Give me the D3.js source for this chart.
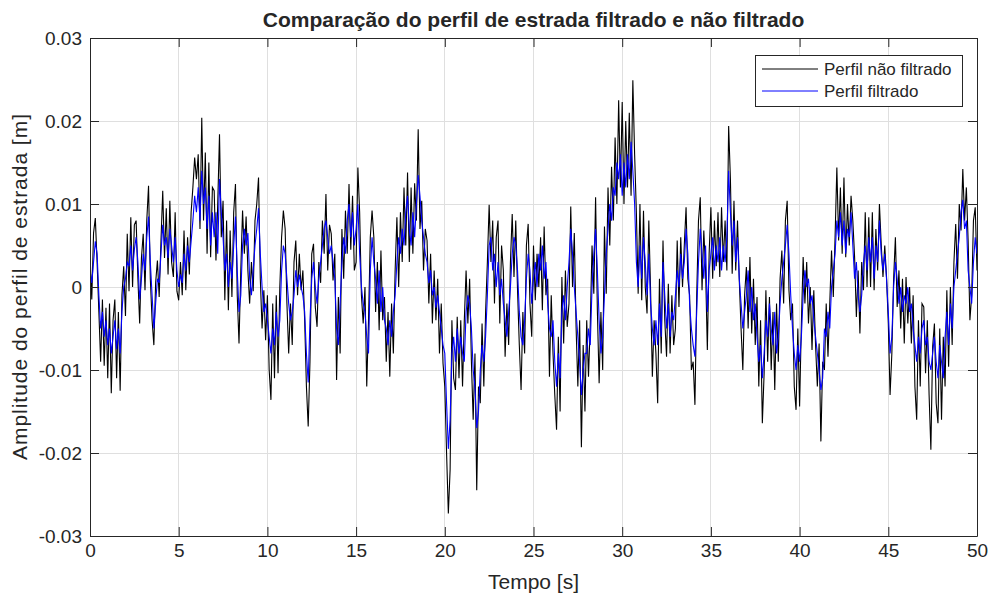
<!DOCTYPE html>
<html>
<head>
<meta charset="utf-8">
<script src="https://cdn.jsdelivr.net/npm/d3@7"></script>
<style>
  html, body { margin: 0; padding: 0; background: #ffffff; }
  svg { display: block; }
  text { font-family: "Liberation Sans", Arial, Helvetica, sans-serif; fill: #262626; }
</style>
</head>
<body>
<svg id="chart" width="988" height="595"></svg>
<script>
// Road profile amplitude in millimetres, sampled every 0.1 s from 0 to 50 s.
const sampleStep = 0.1;

// Unfiltered road profile (mm)
const perfilNaoFiltrado = [
  4, -1.5, 6.5, 8.3, 3, -3, -9, -1.5, -9.5, -2.5,
  -11, -2, -12.8, -4, -1.5, -11, -3, -12.5, -1, 2.5,
  -3.5, 6.4, -0.5, 8.4, 0, 7.5, 8, 1, -4.4, 3.5,
  6.4, -0.4, 8, 12.2, 1, -4, -7, 0.5, 3.2, -1.2,
  5.5, 11.6, 3.5, 9.5, 1.5, 10.4, 3, 1.2, 9, -0.5,
  -1.6, 3, -1, 6.8, -0.4, 6, 1.5, 9, 12, 15.6,
  13, 16, 7, 20.4, 8, 16.2, 4, 15, 3.6, 12,
  11.6, 3.2, 10, 18.4, 6, 10.4, -1.6, 8, -2.8, 6.8,
  -1.2, 9, 12.4, -1, -6.8, 2, 9.2, 4, 8.5, 2,
  -2, 3, -0.5, 8, 10, 13.2, 1, -5, -0.4, -6.4,
  -1, -10, -13.6, -2, -11, -1, -10.4, 0, 6, 9.2,
  7, -2, -8, -2, -7, 3, 5.6, -1, 4, -0.4,
  2, -4, -12, -16.8, -9, 4, 5.2, -2.4, -4.8, 3,
  0.5, 8, 4, 11.2, 2, 7.5, 6.4, 0.8, 4, -11.2,
  -1.2, -8, 7, 1, 9.2, 4, 12.4, 4.5, 11, 2,
  3, 14.4, 9, -1, -4.4, 0, -12, -4, 6, 9.2,
  6, -3, 3, -5.2, 4.4, -4, -1.2, -9, -3, -10.8,
  -2, -8, 2, 8.4, 0, 9, 3, 12, 5, 13.8,
  3, 12, 4, 12.5, 8, 19, 7, 10.4, 2, 7,
  5.6, -2, 4, -4.4, 2, -4, 1, -8, -2, -9.2,
  -12, -20, -27.3, -22, -4, -11, -12.4, -3.6, -11, -4,
  -12, -4, 2, -4.4, 1, -9, -16, -8, -24.5, -12,
  -14, -4.4, -12, -3, 3, 9.9, 3, 8, -2, 6,
  8, -4.4, 5, 2, -8.4, -2, -7, 3, 8.8, 1.2,
  8, -0.4, -7, -12.4, -3, -8, 5, 7.6, -2, -6,
  5, -1.6, 4, 0, 6, -2.8, 7.3, -1, 1, -10.8,
  -1, -8, -13, -17.2, -6, -15, 1.2, -6.8, 2, -4.8,
  -2, 9.7, 0, 6.5, -4.8, -12, -4, -19.3, -7, -15,
  -4, -10.8, -4.5, 5, -0.8, 10.8, -2.8, -11.6, -3, -10,
  7.3, -0.8, 12, 5, 14.5, 8, 18, 10, 22.5, 12,
  22.3, 10, 20, 12, 21, 11, 24.9, 16, 8.9, -0.8,
  10, -1.6, 9.2, 0, -3.2, 8, -0.4, -10.8, -4, -8,
  -14, 1, -8, 5.6, -4, -8.4, 0.4, -8, -1, -7,
  -5, 5.6, -2.4, 6, 0, 5, 9.6, 1, -1, -10,
  -9, -14.2, -1, 8, 10.8, -0.4, 6.8, 2, -7.6, 4,
  9.6, 1, 8, 2.5, 9, 1.2, 9.6, 3, 8, 2,
  19.4, 13, 1.6, 10.4, 2, 8, 0.8, -5, -10, -1,
  2.4, -5, 3.6, -5.6, 1, -7, -1.2, -12, -4, -16.4,
  -10.4, -0.4, -9, -1.2, -10, -3, -12.4, -2, -9, 1,
  4.4, -2, 8, 10.4, -0.4, -4, -2, -12, -14.8, -5,
  -14.4, -4.4, 3.6, -2, 3, -4.4, 0, -7.6, -0.4, -7,
  -12, -6.8, -18.6, -9, -10, -2, -8.4, -2, 4.4, -1.2,
  6, 14.4, 5.6, 12, 4, 13.2, 3.6, 10, 5, 11,
  8, 3.6, -3.6, 2, -5.6, 3, -0.4, 9, 0, 8.4,
  0, 9, -0.4, 7, 2, 10, 5.2, 1.2, 5, 1.2,
  -4.4, -13, -8, 1, 6, -2.4, 2, -5, 1, -6.8,
  1.2, -4.4, 0, -6.8, -1, -12, -16, -4, -12, -2,
  -2.4, -10.4, -4, -13, -19.6, -7.2, -4.4, -14, -16.4, -5,
  -16, -6, -12, -0.4, -9.6, 0, -7, 3, 7.6, 1,
  10, 6.8, 14.2, 8, 12, 5.6, -4, -1, 8, 9.6, 2
];

// Filtered road profile (mm)
const perfilFiltrado = [
  2, 0.5, 3, 5.5, 4, -1, -5, -3, -6, -4,
  -7, -5, -8, -6, -4, -7.5, -5, -8, -3, 0,
  1, 3, 2.5, 5, 2, 4.5, 6, 3, -1.5, 1,
  4, 2, 6, 8.5, 3, -1, -5, -2, 1, 0.5,
  4, 7.5, 5, 6, 3.5, 7, 5, 3, 6, 2,
  0, 1.5, 0.5, 4, 2, 5, 3, 5.5, 8, 11,
  9, 12, 8, 14, 10, 12, 7, 11, 5, 9,
  6, 9, 4, 13, 9, 6, 2, 4, 0, 3,
  1, 5, 8.5, 2, -3, -1, 5, 7, 5, 6.5,
  1, -1, 2, 5, 7, 9.5, 4, 0, -3, -2,
  -4, -6, -8, -5, -7, -3, -6, -4, 2, 5,
  4, 1, -2, -4, -3, -1, 2, 0, 1.5, 0,
  -1, -3, -8, -11.5, -4, 1, 3, 0, -2, 1,
  3, 5, 7, 8, 6, 4, 5, 3, 1, -5,
  -7, -2, 3, 6, 4, 8, 10, 6, 9, 5,
  7, 10, 4, 0, -2, -3, -6, -8, 2, 6,
  3, 1, -2, 2, -3, 0, -4, -5, -7, -4,
  -6, -3, -1, 3, 6, 4, 7, 5, 9, 11,
  7, 5, 9, 6, 10, 13.5, 11, 8, 6, 4,
  3, 0.5, 2, -1, 0, -2.5, -1, -3, -5, -7,
  -8, -14, -19.5, -16, -8, -6, -9, -5, -8, -6,
  -8, -9, -3, -1, -2, -5, -10, -12, -17, -15,
  -10, -7, -9, -6, -1, 5, 6, 2, 4, 0,
  3, -1, 1, -2, -4, -6, -3, 0, 4, 6,
  5, 2, -3, -6, -7, -4, 1, 4, 2, -2,
  1, 3, 0, 4, 2, 5, 1, 3, -2, -5,
  -6, -4, -9, -12, -8, -11, -3, -1, -4, 0,
  3, 7, 4, 0, -3, -6, -9, -13, -10, -8,
  -8, -5, -7, 0, 4, 7, 2, -4, -8, -6,
  -1, 4, 7, 10, 8, 12, 11, 15, 13, 16,
  11, 15, 12, 16, 13, 17.5, 14, 10, 3, 0,
  5, 1, 6, 3, -1, 4, -2, -5, -7, -4,
  -7, -2, -6, 3, -1, -5, -2, -6, -3, -4,
  -1, 2, 0, 4, 1, 3, 7, 4, -2, -5,
  -7, -8.4, -3, 3, 7, 4, 1, 5, -3, 2,
  4, 6, 2, 5, 3, 6, 2, 5, 3, 6,
  14, 9, 5, 8, 3, 6, 1, -2, -5, -3,
  -1, 2, -3, 0, -4, -2, -6, -9, -7, -11,
  -8, -4, -6, -2, -5, -7, -3, -8, -6, -2,
  1, 3, 5, 7.5, 4, -1, -5, -8, -10, -7,
  -9, -6, -1, 2, 0, 1, -2, -1, -4, -6,
  -8, -10, -12.4, -11, -5, -6, -3, -5, 0, 2,
  4, 8, 6, 9, 5, 8, 4, 7, 6, 9,
  5, 1, 3, -1, -3, -1, 3, 5, 2, 6,
  3, 6, 1, 5, 3, 8, 4, 2, 4, 1,
  -3, -8, -6, 0, 3, 1, -2, 0, -3, -1,
  -2, 0, -3, -2, -5, -7, -9, -6, -8, -5,
  -4, -7, -6, -9, -10, -8, -6, -9, -11, -7,
  -9, -11, -6, -3, -7, -2, -5, 0, 2, 4,
  6, 9, 10.5, 7, 8, 2, 0, -2, 3, 6, 4
];

const xTicks = [0, 5, 10, 15, 20, 25, 30, 35, 40, 45, 50];
const yTicks = [-0.03, -0.02, -0.01, 0, 0.01, 0.02, 0.03];
const yTickLabels = ["-0.03", "-0.02", "-0.01", "0", "0.01", "0.02", "0.03"];
const seriesNames = ["Perfil não filtrado", "Perfil filtrado"];
const seriesColors = ["#000000", "#0000ff"];

const W = 988, H = 595;
const margin = { left: 90, right: 11, top: 38, bottom: 59 };
const plotW = W - margin.left - margin.right;
const plotH = H - margin.top - margin.bottom;
const axisColor = "#262626";
const gridColor = "#dfdfdf";
const tickLen = 9;
const fontStack = '"Liberation Sans", Arial, Helvetica, sans-serif';

const svg = d3.select("#chart");
const g = svg.append("g").attr("transform", `translate(${margin.left},${margin.top})`);

const x = d3.scaleLinear().domain([0, 50]).range([0, plotW]);
const y = d3.scaleLinear().domain([-0.03, 0.03]).range([plotH, 0]);

// grid
g.append("g").selectAll("line").data(xTicks.slice(1, -1)).join("line")
  .attr("x1", d => x(d)).attr("x2", d => x(d))
  .attr("y1", 0).attr("y2", plotH)
  .attr("stroke", gridColor).attr("stroke-width", 1).attr("shape-rendering", "crispEdges");
g.append("g").selectAll("line").data(yTicks.slice(1, -1)).join("line")
  .attr("y1", d => y(d)).attr("y2", d => y(d))
  .attr("x1", 0).attr("x2", plotW)
  .attr("stroke", gridColor).attr("stroke-width", 1).attr("shape-rendering", "crispEdges");

// data lines
g.append("clipPath").attr("id", "clip").append("rect")
  .attr("width", plotW).attr("height", plotH);

const line = d3.line()
  .x((d, i) => x(i * sampleStep))
  .y(d => y(d / 1000));

const plot = g.append("g").attr("clip-path", "url(#clip)");
[perfilNaoFiltrado, perfilFiltrado].forEach((series, k) => {
  plot.append("path")
    .datum(series)
    .attr("fill", "none")
    .attr("stroke", seriesColors[k])
    .attr("stroke-width", 1.1)
    .attr("stroke-linejoin", "miter")
    .attr("d", line);
});

// axes: ticks inward on all four sides, boxed plot
const fmtY = d => yTickLabels[yTicks.indexOf(d)];

const axB = g.append("g").attr("transform", `translate(0,${plotH})`)
  .call(d3.axisBottom(x).tickValues(xTicks).tickFormat(d3.format("d")).tickSizeInner(-tickLen).tickSizeOuter(0).tickPadding(8));
const axT = g.append("g")
  .call(d3.axisTop(x).tickValues(xTicks).tickFormat("").tickSizeInner(-tickLen).tickSizeOuter(0));
const axL = g.append("g")
  .call(d3.axisLeft(y).tickValues(yTicks).tickFormat(fmtY).tickSizeInner(-tickLen).tickSizeOuter(0).tickPadding(8));
const axR = g.append("g").attr("transform", `translate(${plotW},0)`)
  .call(d3.axisRight(y).tickValues(yTicks).tickFormat("").tickSizeInner(-tickLen).tickSizeOuter(0));

[axB, axT, axL, axR].forEach(a => {
  a.select(".domain").attr("stroke", axisColor).attr("stroke-width", 1);
  a.selectAll(".tick line").attr("stroke", axisColor);
  a.selectAll("text").attr("fill", axisColor)
    .style("font-family", fontStack)
    .style("font-size", "19px");
});

// titles
svg.append("text")
  .attr("x", margin.left + plotW / 2).attr("y", 27)
  .attr("text-anchor", "middle")
  .style("font-size", "21px").style("font-weight", "bold")
  .attr("fill", "#000")
  .text("Comparação do perfil de estrada filtrado e não filtrado");

svg.append("text")
  .attr("x", margin.left + plotW / 2).attr("y", 589)
  .attr("text-anchor", "middle")
  .style("font-size", "21px")
  .text("Tempo [s]");

svg.append("text")
  .attr("transform", `translate(27,${margin.top + plotH / 2}) rotate(-90)`)
  .attr("text-anchor", "middle")
  .attr("textLength", 346).attr("lengthAdjust", "spacing")
  .style("font-size", "21px")
  .text("Amplitude do perfil de estrada [m]");

// legend
const leg = svg.append("g").attr("transform", "translate(755,55)");
leg.append("rect").attr("width", 207).attr("height", 51)
  .attr("fill", "#fff").attr("stroke", axisColor).attr("stroke-width", 1)
  .attr("shape-rendering", "crispEdges");
seriesNames.forEach((name, i) => {
  const ly = 14 + i * 22;
  leg.append("line").attr("x1", 7).attr("x2", 63).attr("y1", ly).attr("y2", ly)
    .attr("stroke", seriesColors[i]).attr("stroke-width", 1);
  leg.append("text").attr("x", 69).attr("y", ly + 6)
    .style("font-size", "17px").attr("fill", "#000").text(name);
});
</script>
</body>
</html>
